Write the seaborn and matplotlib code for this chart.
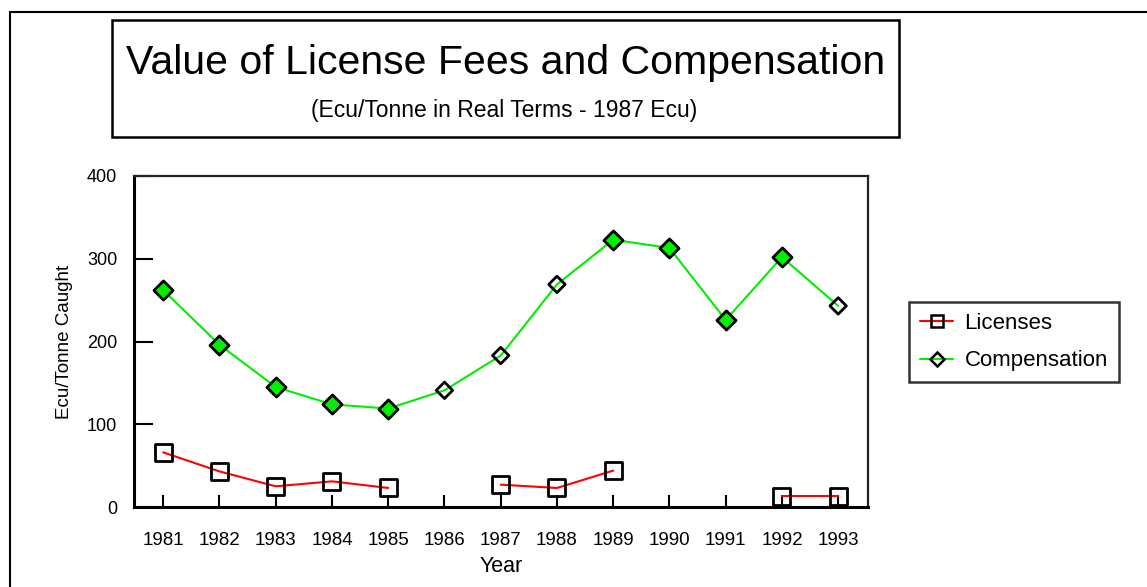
import numpy as np
import pandas as pd
import seaborn as sns
import matplotlib
matplotlib.use("Agg")
import matplotlib.pyplot as plt
from matplotlib.patches import Rectangle
from matplotlib.lines import Line2D

# ---- data ----
years = [1981, 1982, 1983, 1984, 1985, 1986, 1987, 1988, 1989, 1990, 1991, 1992, 1993]
licenses = [66, 43, 25, 31, 23, np.nan, 27, 23, 44, np.nan, np.nan, 13, 13]
compensation = [262, 196, 145, 124, 119, 141, 183, 269, 323, 313, 226, 302, 243]
comp_filled = [True, True, True, True, True, False, False, False, True, True, True, True, False]
yticks = [0, 100, 200, 300, 400]
title = "Value of License Fees and Compensation"
subtitle = "(Ecu/Tonne in Real Terms - 1987 Ecu)"
xlabel = "Year"
ylabel = "Ecu/Tonne Caught"
series_names = ["Licenses", "Compensation"]

sns.set_theme(style="white")
plt.rcParams['font.family'] = ['Liberation Sans', 'DejaVu Sans']
plt.rcParams.update({"text.color": "black", "axes.labelcolor": "black",
                     "xtick.color": "black", "ytick.color": "black"})

W, H = 1147, 587
fig = plt.figure(figsize=(W / 100, H / 100), dpi=100)
fig.patch.set_facecolor("white")

def fx(px):
    return px / W

def fy(py):
    return 1 - py / H

ax = fig.add_axes([fx(134), fy(507), fx(868) - fx(134), fy(176) - fy(507)])

lic = pd.DataFrame({"year": years, "value": licenses})
lic["seg"] = lic["value"].isna().cumsum()
lic = lic.dropna()
comp = pd.DataFrame({"year": years, "value": compensation, "filled": comp_filled})

sns.lineplot(data=lic, x="year", y="value", units="seg", estimator=None,
             color="#ff0000", linewidth=1.5, ax=ax, zorder=2)
sns.lineplot(data=comp, x="year", y="value", estimator=None,
             color="#00ee00", linewidth=1.5, ax=ax, zorder=2)

sns.scatterplot(data=lic, x="year", y="value", marker="s", s=150,
                facecolor="none", edgecolor="black", linewidth=2, ax=ax, zorder=3)
sns.scatterplot(data=comp[comp["filled"]], x="year", y="value", marker="D", s=95,
                color="#00ee00", edgecolor="black", linewidth=2, ax=ax, zorder=3)
sns.scatterplot(data=comp[~comp["filled"]], x="year", y="value", marker="D", s=70,
                facecolor="none", edgecolor="black", linewidth=2, ax=ax, zorder=3)

ax.set_xlim(years[0] - 0.52, years[-1] + 0.53)
ax.set_ylim(0, 400)
ax.set_xticks(years)
ax.set_xticklabels([str(y) for y in years])
ax.set_yticks(yticks)
ax.set_yticklabels([str(v) for v in yticks])
ax.tick_params(axis="x", direction="in", length=9, width=1.5, color="black",
               labelsize=13.5, pad=18, bottom=True)
ax.tick_params(axis="y", direction="in", length=14, width=1.5, color="black",
               labelsize=13, pad=12, left=True)
ax.set_xlabel(xlabel, fontsize=15.5, labelpad=5)
ax.set_ylabel(ylabel, fontsize=13.5, labelpad=10)
for side in ["left", "bottom"]:
    ax.spines[side].set_linewidth(2.2)
    ax.spines[side].set_color("black")
for side in ["top", "right"]:
    ax.spines[side].set_linewidth(1.6)
    ax.spines[side].set_color("#222222")
ax.grid(False)

# outer border (cropped at right and bottom)
fig.patches.append(Rectangle((fx(10), fy(620)), fx(1300) - fx(10), fy(12) - fy(620),
                             transform=fig.transFigure, fill=False,
                             edgecolor="black", linewidth=1.5))
# title box
fig.patches.append(Rectangle((fx(112), fy(137)), fx(899) - fx(112), fy(20) - fy(137),
                             transform=fig.transFigure, fill=False,
                             edgecolor="black", linewidth=1.8))
fig.text(fx(506), fy(63), title, ha="center", va="center", fontsize=29.5)
fig.text(fx(504), fy(111), subtitle, ha="center", va="center", fontsize=16.5)

handles = [
    Line2D([0], [0], color="#ff0000", linewidth=1.5, marker="s", markersize=9,
           markerfacecolor="none", markeredgecolor="black", markeredgewidth=1.8),
    Line2D([0], [0], color="#00ee00", linewidth=1.5, marker="D", markersize=7,
           markerfacecolor="none", markeredgecolor="black", markeredgewidth=1.8),
]
leg = fig.legend(handles, series_names, loc="upper left",
                 bbox_to_anchor=(fx(909), fy(302)), bbox_transform=fig.transFigure,
                 fontsize=16, frameon=True, fancybox=False, handlelength=1.5,
                 handletextpad=0.5, borderpad=0.5, labelspacing=0.73,
                 borderaxespad=0)
leg.get_frame().set_edgecolor("black")
leg.get_frame().set_linewidth(1.8)

fig.savefig("out.png", dpi=100)
